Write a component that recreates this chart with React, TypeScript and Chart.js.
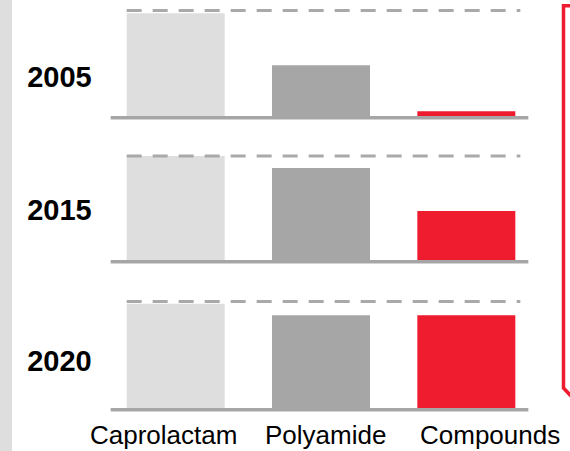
import React, { useEffect, useRef } from "react";
import { Chart, registerables } from "chart.js";

Chart.register(...registerables);

const years = ["2005", "2015", "2020"];
const categories = ["Caprolactam", "Polyamide", "Compounds"];
const caprolactam = [97.5, 100, 98];
const polyamide = [48, 88.5, 87];
const compounds = [4.5, 47, 87];
const referenceLevel = 100;

const barColors = ["#dedede", "#a6a6a6", "#ee1c2e"];
const FONT = "'Liberation Sans', Arial, Helvetica, sans-serif";

const panels = [
  { top: 4, height: 118, padTop: 6.5, labelY: 76.5 },
  { top: 150, height: 116, padTop: 6, labelY: 210 },
  { top: 295, height: 119, padTop: 6.5, labelY: 360.5 },
];

const decorPlugin = {
  id: "decor",
  afterDatasetsDraw(chart: any) {
    const ctx = chart.ctx;
    const bars = chart.getDatasetMeta(0).data;
    const first = bars[0];
    const last = bars[bars.length - 1];
    const left = first.x - first.width / 2;
    const right = last.x + last.width / 2;
    const y = chart.scales.y;
    const yRef = y.getPixelForValue(referenceLevel);
    const y0 = y.getPixelForValue(0);
    ctx.save();
    ctx.strokeStyle = "#a9a9a9";
    ctx.lineWidth = 3;
    ctx.setLineDash([15, 11]);
    ctx.beginPath();
    ctx.moveTo(left, yRef);
    ctx.lineTo(right + 5, yRef);
    ctx.stroke();
    ctx.setLineDash([]);
    ctx.fillStyle = "#a6a6a6";
    ctx.fillRect(left - 16, y0, right + 13 - (left - 16), 3.5);
    ctx.restore();
  },
};

function Panel({ index }: { index: number }) {
  const ref = useRef<HTMLCanvasElement>(null);
  const p = panels[index];
  useEffect(() => {
    if (!ref.current) return;
    const chart = new Chart(ref.current, {
      type: "bar",
      data: {
        labels: categories,
        datasets: [
          {
            data: [caprolactam[index], polyamide[index], compounds[index]],
            backgroundColor: barColors,
            borderWidth: 0,
            barPercentage: 1,
            categoryPercentage: 98 / (436 / 3),
          },
        ],
      },
      options: {
        responsive: false,
        animation: false,
        devicePixelRatio: 1,
        layout: { padding: { top: p.padTop, bottom: 6, left: 0, right: 0 } },
        plugins: { legend: { display: false }, tooltip: { enabled: false } },
        scales: {
          x: { display: false },
          y: { display: false, min: 0, max: referenceLevel },
        },
      },
      plugins: [decorPlugin],
    });
    return () => chart.destroy();
  }, [index]);
  return (
    <canvas
      ref={ref}
      width={436}
      height={p.height}
      style={{ position: "absolute", left: 103, top: p.top, width: 436, height: p.height }}
    />
  );
}

const catLeft = [90, 265, 420];

export default function App() {
  return (
    <div style={{ position: "absolute", left: 0, top: 0, width: 570, height: 451, background: "#fff", overflow: "hidden" }}>
      <div style={{ position: "absolute", left: 0, top: 0, width: 12, height: 451, background: "#dedede" }} />
      {years.map((yr, i) => (
        <div
          key={yr}
          style={{
            position: "absolute",
            left: 12,
            width: 95,
            top: panels[i].labelY - 20,
            height: 40,
            lineHeight: "40px",
            textAlign: "center",
            fontFamily: FONT,
            fontWeight: "bold",
            fontSize: 29,
            color: "#000",
          }}
        >
          {yr}
        </div>
      ))}
      {years.map((_, i) => (
        <Panel key={i} index={i} />
      ))}
      {categories.map((c, i) => (
        <div
          key={c}
          style={{
            position: "absolute",
            left: catLeft[i],
            top: 434.5 - 20,
            height: 40,
            lineHeight: "40px",
            whiteSpace: "nowrap",
            fontFamily: FONT,
            fontSize: 26,
            color: "#000",
          }}
        >
          {c}
        </div>
      ))}
      <svg width={570} height={451} style={{ position: "absolute", left: 0, top: 0, pointerEvents: "none" }}>
        <polyline
          points="571,5.8 563.5,5.8 563.5,388 571,396"
          fill="none"
          stroke="#ee1c2e"
          strokeWidth={3.5}
        />
      </svg>
    </div>
  );
}
